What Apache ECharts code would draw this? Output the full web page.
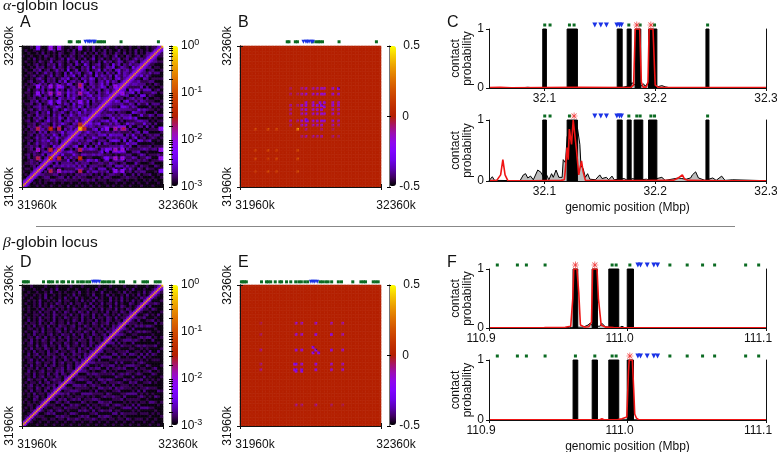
<!DOCTYPE html>
<html><head><meta charset="utf-8">
<script src="https://cdn.jsdelivr.net/npm/echarts@6/dist/echarts.min.js"></script>
<style>html,body{margin:0;background:#fff}#c{width:777px;height:452px}</style></head>
<body><div id="c"></div>
<script>
// ---------- values ----------
const heatTicks=['31960k','32360k'];
// contact level digits (lower triangle, bottom row first): coarse estimates of panels A and D
const bgA=["1","01","101","0011","01012","100121","0110212","10012032","011212023","0012103122","10201120213","012021130322","0011210232113","10120312023142","011212032104213","0020131221312024","10120213241130213","011013122031421223","0012021312142031234","10112031302212413322","010210231241020313124","1021203122031401232134","00112013210312421032123","012013102412130232141232","1010213203121420312213423","00210312120313021421322134","010113021402123103124132243","1012013121032014213302412324","00102231201243102131420312143","011201301241021320412313022134","1002130212013412031232140312243","00112012302104213241023123142324","101021302120312041320213412312243","0110120312013021423102341203124134","00201213021041203132142031230231243","101102031201324102312402131243021324","0101203120213021430124103212413021342","00120113021203140231204132023141320243","100102310212013240120321430213120341234","0101201201302103124020312041321304213244","00110201312021030412301240312031204132143","010021301201312040130213012403120341231234","1001021201130210312002130412013240132104234","00101201021203101203104201230120413021312244","010010210130121020130312010203120132012310234","0010201010210120312010201301201021301201312134","10010010210102010210120102010210130102101201234","001001020101021001201020102012010210201020102234","0100100101020010102010010201020100201010201010134","00010010010100100101000102001010010100100100101134"];
const bgD=["0","10","010","0101","00101","100110","0101021","00110102","101010120","0100210112","00101201021","101020110212","0102011020121","00110210120213","101201020112021","0101102012011202","00210110201211023","101020120110210213","0110201102012021012","00201012011021201123","101102010210112021022","0102011020120110210213","00110210110201201102123","101201020112010210210212","0110102011021012011020213","00201201021101201021102122","101020110201201101202110213","0102011021010210211020120122","00110201201102012011021020213","101201011020110210120110210122","0102010210120110201021102011023","00110210201102012011020120110212","101020110120102110201201021012023","0100210201101201020110210201102122","00110102011021020110210120110201213","101020110201021101201021011020102122","0101102010210110201021010210112010213","00201021010201101021020110201021011022","101010201102010210110201020110210201123","0100110201021011020102110201021010201122","00101020110201021010210201101020110210213","101001020110201010210110201020110201021012","0010102010210110201010210201100201021010123","01001020101021010201101020102011020100210122","001010200101020110010201020110020102010201023","1001001020100102010201001020100201020100102122","01001010200101001020100102001020100102010201013","001001001020010100102001010020010010201001020123","1000100100102000100100010020010001000102000100123","00010000100010000100010000010001000010001000100123"];
const levelLog=[-2.97,-2.85,-2.73,-2.61,-2.46,-2.28];
const diagA=[-0.35,-1.9,-2.35,-2.55];
const diagD=[-0.3,-1.9,-2.45];
// [binX, binY, log10 contact]: hot cells of panel A
const peaksA=[[41,41,-0.2],[44,41,-1.3],[20,41,-1.2],[11,41,-1.4],[26,41,-1.4],[60,41,-1.9],[66,41,-1.6],[71,41,-1.6],[98,41,-1.9],[20,20,-1.1],[26,20,-1.3],[11,20,-1.4],[26,26,-1.4],[11,26,-1.7],[11,11,-1.7],[66,20,-1.8],[71,20,-1.8],[66,26,-1.8],[71,26,-1.8],[66,11,-1.9],[71,11,-1.9],[60,20,-2.1],[60,26,-2.1],[98,20,-1.8],[98,26,-1.8],[98,11,-2.1],[66,66,-1.7],[71,66,-1.8],[71,71,-1.8],[41,72,-1.5],[20,66,-1.7],[26,66,-1.7]];
// [binX, binY, difference]: panel B and panel E hot cells
const peaksB=[[41,41,0.38],[20,41,0.2],[11,41,0.17],[26,41,0.17],[20,20,0.14],[26,20,0.18],[11,20,0.18],[26,26,0.14],[11,26,0.14],[11,11,0.12],[58,58,-0.38],[57,60,-0.32],[47,47,-0.33],[47,48,-0.3],[44,47,-0.24],[58,47,-0.26],[52,47,-0.22],[52,58,-0.24],[52,52,-0.2],[44,58,-0.22],[44,44,-0.18],[44,52,-0.18],[66,47,-0.22],[66,58,-0.24],[66,52,-0.2],[66,44,-0.16],[66,66,-0.22],[70,47,-0.18],[70,58,-0.2],[70,52,-0.16],[70,66,-0.2],[70,44,-0.12],[70,70,-0.42],[36,47,-0.14],[36,58,-0.14],[36,52,-0.12],[36,66,-0.1],[36,70,-0.08],[36,44,-0.1],[60,47,-0.24],[60,60,-0.3],[60,66,-0.22],[60,70,-0.18],[60,52,-0.2],[41,47,-0.12],[41,58,-0.1],[41,66,-0.08],[55,47,-0.28],[55,58,-0.3],[55,55,-0.26],[55,52,-0.22],[55,66,-0.2],[55,70,-0.16],[55,44,-0.18],[55,36,-0.12]];
const peaksE=[[54,54,-0.42],[56,52,-0.36],[52,56,-0.36],[52,52,-0.36],[54,44,-0.25],[54,40,-0.27],[39,44,-0.33],[39,40,-0.33],[44,40,-0.3],[44,44,-0.22],[40,40,-0.22],[65,54,-0.28],[65,44,-0.2],[65,40,-0.22],[65,65,-0.3],[73,54,-0.2],[73,44,-0.17],[73,40,-0.19],[73,65,-0.16],[73,73,-0.14],[15,54,-0.12],[15,44,-0.1],[15,40,-0.12],[15,65,-0.08],[15,73,-0.06]];
// locus markers above heat maps (kb from 31960k)
const markGreenAB=[134,139,157,163,205,215,222,227,234,281,387];
const markBlueAB=[180,187,191,196,203,207];
const markGreenDE=[4,8.5,13,18,61,75,80,87,100,113,118,132,144,158,167,174,184,192,227,234,243,250,260,279,288,320,343,350,356,378,385,392];
const markBlueDE=[201,207,212,219];
// panel C
const barsC=[[32.0985,32.1018],[32.1205,32.1298],[32.1657,32.1702],[32.1747,32.1783],[32.1819,32.187],[32.194,32.2015],[32.2458,32.2485]];
const barsC2=[[32.0985,32.1018],[32.1205,32.1298],[32.1657,32.1702],[32.1747,32.1783],[32.181,32.1888],[32.194,32.2015],[32.2458,32.2485]];
const greenC1=[32.1003,32.1051,32.1226,32.1268,32.1762,32.1864,32.1994,32.2473];
const greenC2=[32.1003,32.1051,32.1226,32.1762,32.1834,32.1864,32.1961,32.1994,32.2473];
const blueC=[32.1455,32.1509,32.156,32.1654,32.1678,32.1696];
const starC1=[32.1834,32.1961];
const starC2=[32.1268];
const blackC1=[[32.05,0.005],[32.08,0.005],[32.085,0.012],[32.09,0.004],[32.13,0.004],[32.17,0.01],[32.175,0.03],[32.177,0.02],[32.179,0.09],[32.181,0.06],[32.187,0.03],[32.1895,0.07],[32.191,0.03],[32.193,0.08],[32.196,0.02],[32.2,0.01],[32.206,0.04],[32.209,0.02],[32.213,0.005],[32.3,0.004]];
const redC1=[[32.05,0.006],[32.06,0.012],[32.07,0.004],[32.1,0.008],[32.13,0.01],[32.17,0.008],[32.178,0.012],[32.1805,0.05],[32.182,1],[32.186,1],[32.1875,0.1],[32.189,0.015],[32.192,0.015],[32.1935,0.1],[32.1945,1],[32.198,1],[32.2,0.05],[32.203,0.01],[32.25,0.008],[32.3,0.006]];
const blackC2=[[32.05,0.005],[32.0515,0.01],[32.053,0.07],[32.055,0.01],[32.078,0.005],[32.081,0.1],[32.083,0.12],[32.085,0.05],[32.0875,0.08],[32.09,0.02],[32.094,0.18],[32.097,0.14],[32.1,0.03],[32.102,0.1],[32.104,0.02],[32.1065,0.12],[32.108,0.06],[32.1105,0.18],[32.113,0.06],[32.1145,0.08],[32.116,0.06],[32.117,0.35],[32.119,0.3],[32.1205,0.72],[32.123,0.9],[32.127,0.98],[32.13,0.85],[32.132,0.6],[32.133,0.25],[32.135,0.2],[32.137,0.06],[32.139,0.12],[32.141,0.03],[32.146,0.02],[32.15,0.1],[32.152,0.04],[32.156,0.06],[32.158,0.02],[32.161,0.08],[32.163,0.02],[32.172,0.04],[32.175,0.01],[32.18,0.04],[32.183,0.01],[32.192,0.03],[32.195,0.01],[32.206,0.06],[32.209,0.01],[32.221,0.05],[32.224,0.04],[32.228,0.03],[32.232,0.05],[32.2335,0.1],[32.2365,0.15],[32.239,0.05],[32.245,0.01],[32.252,0.05],[32.255,0.01],[32.26,0.08],[32.263,0.01],[32.27,0.02],[32.3,0.005]];
const redC2=[[32.05,0.004],[32.057,0.01],[32.0605,0.1],[32.0625,0.35],[32.0645,0.1],[32.067,0.005],[32.09,0.004],[32.115,0.01],[32.118,0.02],[32.119,0.2],[32.1205,0.55],[32.1215,0.35],[32.1225,0.85],[32.1245,0.6],[32.126,1],[32.1275,1],[32.129,0.5],[32.131,0.1],[32.132,0.2],[32.1335,0.33],[32.135,0.15],[32.137,0.01],[32.18,0.006],[32.216,0.01],[32.22,0.04],[32.2245,0.1],[32.2265,0.03],[32.23,0.01],[32.26,0.005],[32.3,0.004]];
// panel F
const barsF=[[110.9607,110.9641],[110.9745,110.9783],[110.9865,110.9937],[110.9998,111.0043]];
const greenF1=[110.906,110.9205,110.927,110.9405,110.9889,110.9918,111.0017,111.0306,111.0431,111.0542,111.0629,111.0853,111.0947];
const greenF2=[110.906,110.9205,110.927,110.9405,110.9624,110.9764,110.9889,110.9918,111.0306,111.0431,111.0542,111.0629,111.0853,111.0947];
const blueF=[111.0075,111.0094,111.0142,111.019,111.0217];
const starF1=[110.9624,110.9764];
const starF2=[111.0017];
const blackF1=[[110.9,0.005],[110.95,0.005],[110.958,0.01],[110.968,0.015],[110.9715,0.05],[110.973,0.08],[110.975,0.03],[110.98,0.03],[110.9815,0.08],[110.984,0.02],[110.99,0.01],[110.9945,0.01],[110.996,0.03],[110.998,0.005],[111.1,0.004]];
const redF1=[[110.9,0.004],[110.94,0.008],[110.955,0.012],[110.959,0.03],[110.9605,0.5],[110.9612,1],[110.9635,1],[110.9648,0.6],[110.966,0.05],[110.969,0.015],[110.972,0.02],[110.974,0.1],[110.9748,1],[110.978,1],[110.979,0.5],[110.981,0.05],[110.984,0.015],[110.99,0.006],[111.1,0.004]];
const blackF2=[[110.9,0.003],[110.99,0.004],[111.1,0.003]];
const redF2=[[110.9,0.002],[110.98,0.004],[110.9815,0.02],[110.983,0.004],[110.993,0.006],[110.996,0.02],[110.9995,0.05],[111.0007,0.8],[111.0012,1],[111.0035,1],[111.0045,0.5],[111.0052,0.1],[111.0065,0.03],[111.008,0.005],[111.1,0.002]];
const PAL=['#000000','#400062','#5a00b4','#6e02ec','#8004ff','#8f08ec','#9c0db4','#a91562','#b42000','#bf2d00','#ca3e00','#d35300','#dd6c00','#e68900','#efab00','#f7d200','#ffff00'];

// ---------- layout and option building ----------
const FONT='"Liberation Sans",Arial,sans-serif';
const grid=[],xAxis=[],yAxis=[],series=[],visualMap=[];
const NB=100;
const STAR='path://M4.5 0H5.5V10H4.5Z M0 4.5H10V5.5H0Z M1 1.7L1.7 1L9 8.3L8.3 9Z M1.7 9L1 8.3L8.3 1L9 1.7Z';
const LINE={lineStyle:{color:'#111',width:1}};
function addGrid(l,t,w,h){grid.push({left:l,top:t,width:w,height:h,containLabel:false,outerBoundsMode:'none'});return grid.length-1;}
function matrixOf(base,bg,diag,peaks,lo,hi,fringe){
  const m=[];for(let i=0;i<NB;i++){m.push(new Array(NB).fill(base));}
  if(bg)for(let i=0;i<NB;i++)for(let j=0;j<=i;j++){
    const row=bg[i>>1]||'';const d=row.charCodeAt(j>>1)-48;
    const v=levelLog[isNaN(d)?0:d];m[i][j]=v;m[j][i]=v;}
  if(diag)for(let i=0;i<NB;i++)for(let k=0;k<diag.length;k++){
    if(i+k<NB){m[i][i+k]=Math.max(m[i][i+k],diag[k]);m[i+k][i]=m[i][i+k];}}
  const put=(a,b,v)=>{if(a<0||b<0||a>=NB||b>=NB)return;
    if(bg?v>m[a][b]:Math.abs(v)>Math.abs(m[a][b])){m[a][b]=v;m[b][a]=v;}};
  peaks.forEach(p=>{for(let dx=lo;dx<=hi;dx++)for(let dy=lo;dy<=hi;dy++){
      const f=(dx===0&&dy===0)?0:fringe;
      put(p[0]+dx,p[1]+dy,bg?p[2]-f:p[2]*(1-f));}});
  return m;
}
function scatter(xi,yi,data,symbol,size,color,rot){
  series.push({type:'scatter',xAxisIndex:xi,yAxisIndex:yi,data,symbol,symbolSize:size,symbolRotate:rot||0,clip:false,silent:true,z:7,itemStyle:{color,opacity:1}});
}
function heatPanel(l,t,m,vmin,vmax,green,blue,markY){
  const g=addGrid(l,t,141,141);
  const cats=[...Array(NB).keys()].map(String);
  const xi=xAxis.length,yi=yAxis.length;
  xAxis.push({type:'category',gridIndex:g,data:cats,show:false});
  yAxis.push({type:'category',gridIndex:g,data:cats,show:false});
  const data=[];for(let i=0;i<NB;i++)for(let j=0;j<NB;j++)data.push([i,j,m[j][i]]);
  visualMap.push({type:'continuous',seriesIndex:series.length,min:vmin,max:vmax,inRange:{color:PAL},
    itemWidth:7,itemHeight:140,left:l+149,top:t,padding:0,calculable:false,showLabel:false,hoverLink:false,silent:true});
  series.push({type:'heatmap',xAxisIndex:xi,yAxisIndex:yi,data,progressive:0,silent:true,z:2});
  const g2=addGrid(l,t,141,141);
  const tickCfg={customValues:[0,400],length:3,lineStyle:{color:'#111',width:1}};
  const xb=xAxis.length;
  xAxis.push({type:'value',gridIndex:g2,position:'bottom',min:0,max:400,splitLine:{show:false},z:5,axisLine:LINE,axisTick:tickCfg,
    axisLabel:{customValues:[0,400],formatter:v=>heatTicks[v?1:0],fontFamily:FONT,fontSize:12,color:'#111',margin:13,padding:[0,0,0,30],hideOverlap:false}});
  xAxis.push({type:'value',gridIndex:g2,position:'top',min:0,max:400,splitLine:{show:false},z:5,axisLine:LINE,axisTick:tickCfg,axisLabel:{show:false}});
  const yl=yAxis.length;
  yAxis.push({type:'value',gridIndex:g2,position:'left',min:0,max:400,splitLine:{show:false},z:5,axisLine:LINE,axisTick:tickCfg,
    axisLabel:{customValues:[0,400],formatter:v=>heatTicks[v?1:0],fontFamily:FONT,fontSize:12,color:'#111',rotate:90,margin:6,hideOverlap:false}});
  yAxis.push({type:'value',gridIndex:g2,position:'right',min:0,max:400,splitLine:{show:false},z:5,axisLine:LINE,axisTick:tickCfg,axisLabel:{show:false}});
  scatter(xb,yl,green.map(v=>[v,markY]),'square',3,'#0b6b22');
  scatter(xb,yl,blue.map(v=>[v,markY]),'triangle',4,'#1a32e6',180);
}
function colorBar(l,t,vmin,vmax,ticks,minor,fmt,rich,lblAlign,margin){
  const g=addGrid(l,t,7,141);
  xAxis.push({type:'value',gridIndex:g,show:false,min:0,max:1});
  const base={type:'value',gridIndex:g,min:vmin,max:vmax,splitLine:{show:false},z:5,axisLine:{lineStyle:{color:'#777',width:1}}};
  yAxis.push(Object.assign({},base,{position:'right',
    axisTick:{customValues:ticks.concat(minor),inside:true,length:2,lineStyle:{color:'#000',width:1}},
    axisLabel:{customValues:ticks,formatter:fmt,rich,fontFamily:FONT,fontSize:12,color:'#111',align:lblAlign,margin,hideOverlap:false}}));
  yAxis.push(Object.assign({},base,{position:'left',
    axisTick:{customValues:ticks.concat(minor),inside:true,length:2,lineStyle:{color:'#000',width:1}},axisLabel:{show:false}}));
}
function linePanel(t,h,range,ticks,bars,black,red,green,blue,star,named,labelPad){
  const g=addGrid(489,t,277,h);
  const xi=xAxis.length,yi=yAxis.length;
  const ax={type:'value',gridIndex:g,min:range[0],max:range[1],splitLine:{show:false},z:5,axisLine:LINE,
    axisTick:{customValues:ticks,length:3,lineStyle:{color:'#111',width:1}},
    axisLabel:{customValues:ticks,formatter:v=>v.toFixed(1),fontFamily:FONT,fontSize:12,color:'#111',margin:5,padding:labelPad,hideOverlap:false}};
  if(named)Object.assign(ax,{name:'genomic position (Mbp)',nameLocation:'middle',nameGap:21,nameTextStyle:{fontFamily:FONT,fontSize:12,color:'#111'}});
  xAxis.push(ax);
  xAxis.push({type:'value',gridIndex:g,position:'top',min:range[0],max:range[1],splitLine:{show:false},z:5,axisLine:LINE,axisTick:{show:false},axisLabel:{show:false}});
  yAxis.push({type:'value',gridIndex:g,min:0,max:1,splitLine:{show:false},z:5,axisLine:{show:true,lineStyle:{color:'#111',width:1}},
    axisTick:{customValues:[0,1],length:3,lineStyle:{color:'#111',width:1}},
    axisLabel:{customValues:[0,1],fontFamily:FONT,fontSize:12,color:'#111',margin:5,hideOverlap:false},
    name:'contact\nprobability',nameLocation:'middle',nameRotate:90,nameGap:15,nameTextStyle:{fontFamily:FONT,fontSize:12,lineHeight:12,color:'#111'}});
  yAxis.push({type:'value',gridIndex:g,position:'right',min:0,max:1,splitLine:{show:false},z:5,axisLine:{show:true,lineStyle:{color:'#111',width:1}},axisTick:{show:false},axisLabel:{show:false}});
  series.push({type:'line',xAxisIndex:xi,yAxisIndex:yi,data:black,symbol:'none',silent:true,z:2,lineStyle:{color:'#000',width:1},areaStyle:{color:'#bdbdbd',opacity:1}});
  series.push({type:'custom',xAxisIndex:xi,yAxisIndex:yi,data:bars,silent:true,z:3,encode:{x:[0,1]},
    renderItem:(p,api)=>{const a=api.coord([api.value(0),1]),b=api.coord([api.value(1),0]);
      return {type:'rect',shape:{x:a[0],y:a[1],width:b[0]-a[0],height:b[1]-a[1]},style:{fill:'#000',stroke:'#000',lineWidth:1}};}});
  series.push({type:'line',xAxisIndex:xi,yAxisIndex:yi,data:red,symbol:'none',silent:true,z:4,lineStyle:{color:'#f01414',width:1.6}});
  const my=1+4/h;
  scatter(xi,yi,green.map(v=>[v,my]),'square',3,'#0b6b22');
  scatter(xi,yi,blue.map(v=>[v,my]),'triangle',5,'#1a32e6',180);
  scatter(xi,yi,star.map(v=>[v,my]),STAR,7,'#f04040');
}
const logFmt=v=>{const p=Math.round(v);return '{b|10}{s|'+p+'}';};
const logRich={b:{fontFamily:FONT,fontSize:12,color:'#111'},s:{fontFamily:FONT,fontSize:9,color:'#111',padding:[0,0,7,0]}};
const diffFmt=v=>v===0?'{z|0}':(v>0?'0.5':'-0.5');
const diffRich={z:{fontFamily:FONT,fontSize:12,color:'#111',padding:[0,11,0,0]}};
const logTicks=[-3,-2,-1,0];
const logMinor=[-2.7,-2.52,-2.4,-2.3,-2.22,-2.15,-2.1,-2.05,-1.7,-1.52,-1.4,-1.3,-1.22,-1.15,-1.1,-1.05,-0.7,-0.52,-0.4,-0.3,-0.22,-0.15,-0.1,-0.05];

heatPanel(22,46,matrixOf(-3,bgA,diagA,peaksA,-1,1,0.3),-3,0,markGreenAB,markBlueAB,412);
colorBar(171,46,-3,0,logTicks,logMinor,logFmt,logRich,'left',3);
heatPanel(240,46,matrixOf(0,null,null,peaksB,-1,0,0.5),-0.5,0.5,markGreenAB,markBlueAB,412);
colorBar(389,46,-0.5,0.5,[-0.5,0,0.5],[],diffFmt,diffRich,'right',24);
heatPanel(22,285,matrixOf(-3,bgD,diagD,[],0,0,0),-3,0,markGreenDE,markBlueDE,409);
colorBar(171,285,-3,0,logTicks,logMinor,logFmt,logRich,'left',3);
heatPanel(240,285,matrixOf(0,null,null,peaksE,-1,0,0.5),-0.5,0.5,markGreenDE,markBlueDE,409);
colorBar(389,285,-0.5,0.5,[-0.5,0,0.5],[],diffFmt,diffRich,'right',24);
linePanel(29,59,[32.05,32.3],[32.1,32.2,32.3],barsC,blackC1,redC1,greenC1,blueC,starC1,false,[0,0,0,0]);
linePanel(120,61,[32.05,32.3],[32.1,32.2,32.3],barsC2,blackC2,redC2,greenC2,blueC,starC2,true,[0,0,0,0]);
linePanel(269,59,[110.9,111.1],[110.9,111.0,111.1],barsF,blackF1,redF1,greenF1,blueF,starF1,false,[0,16,0,0]);
linePanel(360,60,[110.9,111.1],[110.9,111.0,111.1],barsF,blackF2,redF2,greenF2,blueF,starF2,true,[0,16,0,0]);

const txt=(x,y,text,size,rich)=>({type:'text',x,y,silent:true,style:{text,fill:'#111',font:size+'px '+FONT,rich,textVerticalAlign:'middle'}});
const greek={g:{fontFamily:'"Liberation Serif",serif',fontStyle:'italic',fontSize:15.5,color:'#111'},t:{fontFamily:FONT,fontSize:15.5,color:'#111'}};
const graphic=[
  txt(3,6,'{g|α}{t|-globin locus}',15.5,greek),
  txt(3,243,'{g|β}{t|-globin locus}',15.5,greek),
  txt(20,23,'A',16),txt(238,23,'B',16),txt(447,23,'C',16),
  txt(20,263,'D',16),txt(238,263,'E',16),txt(447,263,'F',16),
  {type:'line',silent:true,shape:{x1:36,y1:226.5,x2:735,y2:226.5},style:{stroke:'#888',lineWidth:1.2}}
];
const chart=echarts.init(document.getElementById('c'),null,{renderer:'canvas'});
chart.setOption({animation:false,backgroundColor:'#fff',tooltip:{show:false},grid,xAxis,yAxis,series,visualMap,graphic});
</script></body></html>
